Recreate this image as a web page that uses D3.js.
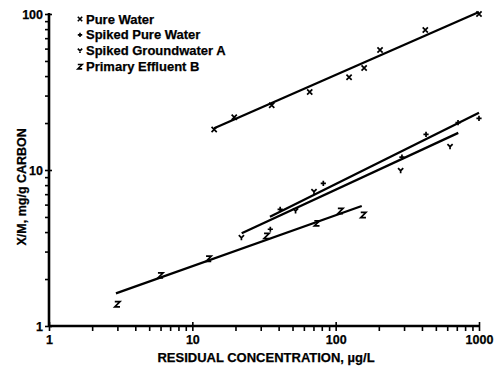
<!DOCTYPE html>
<html>
<head>
<meta charset="utf-8">
<script src="https://cdn.jsdelivr.net/npm/d3@7"></script>
<style>
  body { margin: 0; background: #fff; }
  svg { display: block; }
  text { font-family: "Liberation Sans", Arial, Helvetica, sans-serif; font-weight: bold; fill: #000; stroke: #000; stroke-width: 0.25px; }
</style>
</head>
<body>
<svg id="chart" width="496" height="367"></svg>
<script>
// Adsorption isotherms (log-log): loading X/M vs residual concentration
const seriesNames = ["Pure Water", "Spiked Pure Water", "Spiked Groundwater A", "Primary Effluent B"];
const seriesMarkers = ["cross", "plus", "wye", "zed"];

const pureWaterX = [14.2, 19.6, 35.8, 65.9, 124, 158, 204, 422, 1000];
const pureWaterY = [18.2, 21.8, 26.0, 31.6, 39.3, 45.1, 58.8, 78.9, 100];

const spikedPureX = [35, 41, 82, 290, 427, 714, 1000];
const spikedPureY = [4.17, 5.6, 8.22, 12.1, 16.9, 20.1, 21.4];

const groundwaterX = [22, 52.5, 70.6, 284, 628];
const groundwaterY = [3.68, 5.46, 7.26, 9.9, 14.1];

const effluentX = [3, 6, 13, 33, 74, 108, 156];
const effluentY = [1.38, 2.11, 2.70, 3.78, 4.55, 5.46, 5.15];

// Freundlich fit lines: start and end of each
const pureWaterFitX = [14.2, 1000],  pureWaterFitY = [18.5, 103];
const spikedPureFitX = [34.8, 1000], spikedPureFitY = [5.02, 23.3];
const groundwaterFitX = [22.1, 717], groundwaterFitY = [3.93, 17.3];
const effluentFitX = [2.93, 152],    effluentFitY = [1.62, 5.88];

const xTickLabels = ["1", "10", "100", "1000"];
const yTickLabels = ["1", "10", "100"];
const xTitle = "RESIDUAL CONCENTRATION, \u00b5g/L";
const yTitle = "X/M, mg/g CARBON";

const series = [
  { name: seriesNames[0], marker: seriesMarkers[0], xs: pureWaterX, ys: pureWaterY, fx: pureWaterFitX, fy: pureWaterFitY },
  { name: seriesNames[1], marker: seriesMarkers[1], xs: spikedPureX, ys: spikedPureY, fx: spikedPureFitX, fy: spikedPureFitY },
  { name: seriesNames[2], marker: seriesMarkers[2], xs: groundwaterX, ys: groundwaterY, fx: groundwaterFitX, fy: groundwaterFitY },
  { name: seriesNames[3], marker: seriesMarkers[3], xs: effluentX, ys: effluentY, fx: effluentFitX, fy: effluentFitY }
];

const svg = d3.select("#chart");
const x = d3.scaleLog().domain([1, 1000]).range([49, 479]);
const y = d3.scaleLog().domain([1, 100]).range([326, 14]);

// log ticks: 1..9 in each decade
function logTicks(lo, hi) {
  const t = [];
  for (let d = lo; d < hi; d *= 10) for (let k = 1; k < 10; k++) t.push(d * k);
  t.push(hi);
  return t;
}
const isMajor = v => Math.abs(Math.log10(v) - Math.round(Math.log10(v))) < 1e-9;

// X axis
const xAxisG = svg.append("g").attr("transform", `translate(0,${y(1)})`)
  .call(d3.axisBottom(x).tickValues(logTicks(1, 1000)).tickSize(0)
    .tickFormat(v => isMajor(v) ? xTickLabels[Math.round(Math.log10(v))] : ""));
xAxisG.select(".domain").attr("stroke", "#000").attr("stroke-width", 2.6).attr("d", `M${x(1)},0H${x(1000) + 1}`);
xAxisG.selectAll(".tick line").remove();
xAxisG.selectAll(".tick").append("line")
  .attr("y1", d => isMajor(d) ? -4 : 0).attr("y2", 5)
  .attr("stroke", "#000").attr("stroke-width", 1.6);
xAxisG.selectAll(".tick text").attr("y", 9).attr("dy", "0.71em")
  .style("font-size", "12.5px");

// Y axis
const yAxisG = svg.append("g").attr("transform", `translate(${x(1)},0)`)
  .call(d3.axisLeft(y).tickValues(logTicks(1, 100)).tickSize(0)
    .tickFormat(v => isMajor(v) ? yTickLabels[Math.round(Math.log10(v))] : ""));
yAxisG.select(".domain").attr("stroke", "#000").attr("stroke-width", 2.6).attr("d", `M0,${y(1) + 1}V${y(100) - 1}`);
yAxisG.selectAll(".tick line").remove();
yAxisG.selectAll(".tick").append("line")
  .attr("x1", -4).attr("x2", d => isMajor(d) ? 3 : 0)
  .attr("stroke", "#000").attr("stroke-width", 1.6);
yAxisG.selectAll(".tick text").attr("x", -6).style("font-size", "12.5px");

// Axis titles
svg.append("text").attr("x", 266).attr("y", 362).attr("text-anchor", "middle")
  .style("font-size", "13px").text(xTitle);
svg.append("text").attr("transform", `translate(22,${y(7.8)}) rotate(-90)`)
  .attr("text-anchor", "middle").attr("dominant-baseline", "central")
  .style("font-size", "12.5px").text(yTitle);

// Marker shapes
function markerPath(kind, s) {
  switch (kind) {
    case "cross": return `M${-s},${-s}L${s},${s}M${-s},${s}L${s},${-s}`;
    case "plus":  return `M0,${-s}L0,${s}M${-s},0L${s},0`;
    case "wye":   return `M${-s},${-s}L0,0L${s},${-s}M0,0L0,${s}`;
    case "zed":   return `M${-s},${-s}L${s},${-s}L${-s},${s}L${s},${s}`;
  }
}

// Fit lines
const line = d3.line().x(d => x(d[0])).y(d => y(d[1]));
svg.append("g").selectAll("path").data(series).join("path")
  .attr("d", s => line(d3.zip(s.fx, s.fy)))
  .attr("fill", "none").attr("stroke", "#000").attr("stroke-width", 2.3)
  .attr("stroke-linecap", "butt");

// Data points
series.forEach(s => {
  svg.append("g").selectAll("path").data(d3.zip(s.xs, s.ys)).join("path")
    .attr("transform", d => `translate(${x(d[0])},${y(d[1])})`)
    .attr("d", markerPath(s.marker, 2.6))
    .attr("fill", "none").attr("stroke", "#000").attr("stroke-width", 1.7);
});

// Legend
const legend = svg.append("g");
series.forEach((s, i) => {
  const cy = 19 + i * 15.9;
  legend.append("path").attr("transform", `translate(80,${cy})`)
    .attr("d", markerPath(s.marker, 2.2))
    .attr("fill", "none").attr("stroke", "#000").attr("stroke-width", 1.6);
  legend.append("text").attr("x", 86).attr("y", cy).attr("dominant-baseline", "central")
    .style("font-size", "13px").text(s.name);
});
</script>
</body>
</html>
